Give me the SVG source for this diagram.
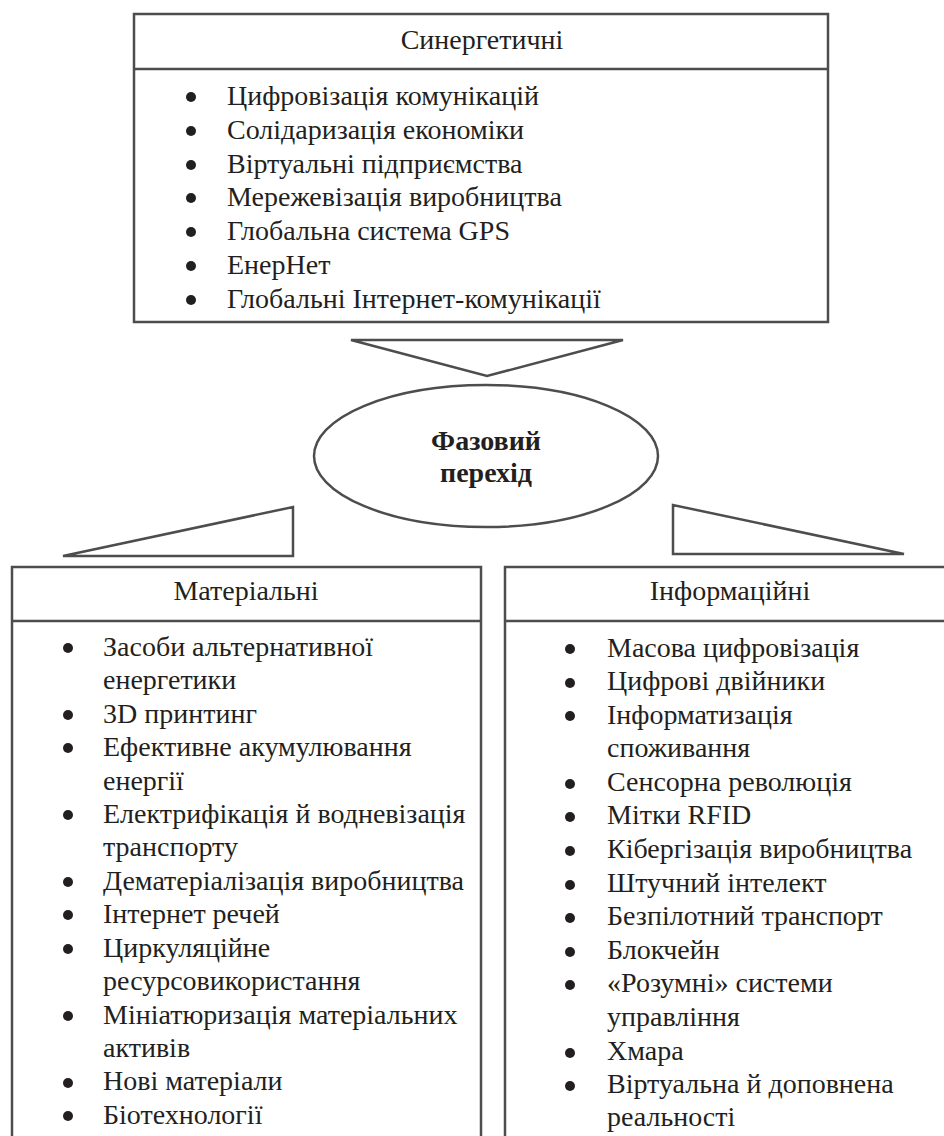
<svg xmlns="http://www.w3.org/2000/svg" width="944" height="1136" viewBox="0 0 944 1136">
<style>
.box{fill:#fff;stroke:#4d4d4d;stroke-width:2.5}
.ln{stroke:#4d4d4d;stroke-width:2.5;fill:none}
.tri{fill:#fff;stroke:#4d4d4d;stroke-width:2.5;stroke-linejoin:miter}
.dot{fill:#231f20}
</style>
<rect width="944" height="1136" fill="#fff"/>
<g id="connectors">
<polygon class="tri" points="351,340 623,340 487,376"/>
<polygon class="tri" points="63,556 293,507 293,556"/>
<polygon class="tri" points="673,505 673,554 904,554"/>
</g>
<g id="synergetic">
<rect class="box" x="134" y="14" width="694" height="308"/>
<line class="ln" x1="134" y1="69" x2="828" y2="69"/>
<text font-family="Liberation Serif" font-size="28" fill="#231f20" text-anchor="middle" x="482" y="49">Синергетичні</text>
<g class="dot">
<circle cx="191" cy="97" r="5"/><circle cx="191" cy="131" r="5"/><circle cx="191" cy="165" r="5"/><circle cx="191" cy="198" r="5"/><circle cx="191" cy="232" r="5"/><circle cx="191" cy="266" r="5"/><circle cx="191" cy="300" r="5"/>
</g>
<text font-family="Liberation Serif" font-size="28" fill="#231f20" x="227" y="105">Цифровізація комунікацій</text>
<text font-family="Liberation Serif" font-size="28" fill="#231f20" x="227" y="139">Солідаризація економіки</text>
<text font-family="Liberation Serif" font-size="28" fill="#231f20" x="227" y="173">Віртуальні підприємства</text>
<text font-family="Liberation Serif" font-size="28" fill="#231f20" x="227" y="206">Мережевізація виробництва</text>
<text font-family="Liberation Serif" font-size="28" fill="#231f20" x="227" y="240">Глобальна система GPS</text>
<text font-family="Liberation Serif" font-size="28" fill="#231f20" x="227" y="274">ЕнерНет</text>
<text font-family="Liberation Serif" font-size="28" fill="#231f20" x="227" y="308">Глобальні Інтернет-комунікації</text>
</g>
<g id="phase">
<ellipse class="box" cx="486" cy="456" rx="172" ry="71"/>
<text font-family="Liberation Serif" font-size="28" font-weight="bold" fill="#231f20" text-anchor="middle" x="486" y="450">Фазовий</text>
<text font-family="Liberation Serif" font-size="28" font-weight="bold" fill="#231f20" text-anchor="middle" x="486" y="482">перехід</text>
</g>
<g id="material">
<rect class="box" x="12" y="567" width="469" height="600"/>
<line class="ln" x1="12" y1="621" x2="481" y2="621"/>
<text font-family="Liberation Serif" font-size="28" fill="#231f20" text-anchor="middle" x="246" y="600">Матеріальні</text>
<g class="dot">
<circle cx="68" cy="648" r="5"/><circle cx="68" cy="715" r="5"/><circle cx="68" cy="748" r="5"/><circle cx="68" cy="815" r="5"/><circle cx="68" cy="882" r="5"/><circle cx="68" cy="915" r="5"/><circle cx="68" cy="949" r="5"/><circle cx="68" cy="1016" r="5"/><circle cx="68" cy="1083" r="5"/><circle cx="68" cy="1116" r="5"/>
</g>
<text font-family="Liberation Serif" font-size="28" fill="#231f20" x="103" y="656">Засоби альтернативної</text>
<text font-family="Liberation Serif" font-size="28" fill="#231f20" x="103" y="689">енергетики</text>
<text font-family="Liberation Serif" font-size="28" fill="#231f20" x="103" y="723">3D принтинг</text>
<text font-family="Liberation Serif" font-size="28" fill="#231f20" x="103" y="756">Ефективне акумулювання</text>
<text font-family="Liberation Serif" font-size="28" fill="#231f20" x="103" y="790">енергії</text>
<text font-family="Liberation Serif" font-size="28" fill="#231f20" x="103" y="823">Електрифікація й водневізація</text>
<text font-family="Liberation Serif" font-size="28" fill="#231f20" x="103" y="856">транспорту</text>
<text font-family="Liberation Serif" font-size="28" fill="#231f20" x="103" y="890">Дематеріалізація виробництва</text>
<text font-family="Liberation Serif" font-size="28" fill="#231f20" x="103" y="923">Інтернет речей</text>
<text font-family="Liberation Serif" font-size="28" fill="#231f20" x="103" y="957">Циркуляційне</text>
<text font-family="Liberation Serif" font-size="28" fill="#231f20" x="103" y="990">ресурсовикористання</text>
<text font-family="Liberation Serif" font-size="28" fill="#231f20" x="103" y="1024">Мініатюризація матеріальних</text>
<text font-family="Liberation Serif" font-size="28" fill="#231f20" x="103" y="1057">активів</text>
<text font-family="Liberation Serif" font-size="28" fill="#231f20" x="103" y="1090">Нові матеріали</text>
<text font-family="Liberation Serif" font-size="28" fill="#231f20" x="103" y="1124">Біотехнології</text>
</g>
<g id="informational">
<rect class="box" x="505" y="567" width="460" height="600"/>
<line class="ln" x1="505" y1="621" x2="965" y2="621"/>
<text font-family="Liberation Serif" font-size="28" fill="#231f20" text-anchor="middle" x="730" y="600">Інформаційні</text>
<g class="dot">
<circle cx="570" cy="649" r="5"/><circle cx="570" cy="683" r="5"/><circle cx="570" cy="716" r="5"/><circle cx="570" cy="784" r="5"/><circle cx="570" cy="817" r="5"/><circle cx="570" cy="851" r="5"/><circle cx="570" cy="885" r="5"/><circle cx="570" cy="918" r="5"/><circle cx="570" cy="952" r="5"/><circle cx="570" cy="985" r="5"/><circle cx="570" cy="1053" r="5"/><circle cx="570" cy="1086" r="5"/>
</g>
<text font-family="Liberation Serif" font-size="28" fill="#231f20" x="607" y="657">Масова цифровізація</text>
<text font-family="Liberation Serif" font-size="28" fill="#231f20" x="607" y="690">Цифрові двійники</text>
<text font-family="Liberation Serif" font-size="28" fill="#231f20" x="607" y="724">Інформатизація</text>
<text font-family="Liberation Serif" font-size="28" fill="#231f20" x="607" y="757">споживання</text>
<text font-family="Liberation Serif" font-size="28" fill="#231f20" x="607" y="791">Сенсорна революція</text>
<text font-family="Liberation Serif" font-size="28" fill="#231f20" x="607" y="824">Мітки RFID</text>
<text font-family="Liberation Serif" font-size="28" fill="#231f20" x="607" y="858">Кібергізація виробництва</text>
<text font-family="Liberation Serif" font-size="28" fill="#231f20" x="607" y="892">Штучний інтелект</text>
<text font-family="Liberation Serif" font-size="28" fill="#231f20" x="607" y="925">Безпілотний транспорт</text>
<text font-family="Liberation Serif" font-size="28" fill="#231f20" x="607" y="959">Блокчейн</text>
<text font-family="Liberation Serif" font-size="28" fill="#231f20" x="607" y="992">«Розумні» системи</text>
<text font-family="Liberation Serif" font-size="28" fill="#231f20" x="607" y="1026">управління</text>
<text font-family="Liberation Serif" font-size="28" fill="#231f20" x="607" y="1060">Хмара</text>
<text font-family="Liberation Serif" font-size="28" fill="#231f20" x="607" y="1093">Віртуальна й доповнена</text>
<text font-family="Liberation Serif" font-size="28" fill="#231f20" x="607" y="1126">реальності</text>
</g>
</svg>
